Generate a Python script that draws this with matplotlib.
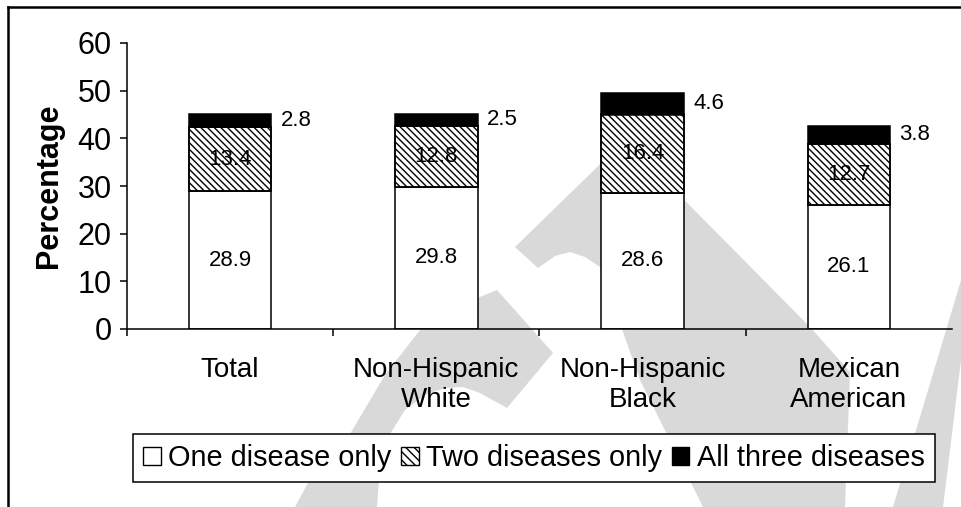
import matplotlib
matplotlib.use("Agg")
import matplotlib.pyplot as plt
from matplotlib.patches import Patch, Polygon
from matplotlib.lines import Line2D

categories = ["Total", "Non-Hispanic\nWhite", "Non-Hispanic\nBlack", "Mexican\nAmerican"]
one_only = [28.9, 29.8, 28.6, 26.1]
two_only = [13.4, 12.8, 16.4, 12.7]
all_three = [2.8, 2.5, 4.6, 3.8]
legend_labels = ["One disease only", "Two diseases only", "All three diseases"]

plt.rcParams['font.family'] = ['Liberation Sans', 'DejaVu Sans']
plt.rcParams['hatch.linewidth'] = 1.0

W, H = 962, 507
fig = plt.figure(figsize=(W / 100, H / 100), dpi=100)


def px(x, y):
    return (x / W, 1 - y / H)


# faint grey background stamp
grey = '#d9d9d9'
stamp = [
    [(295, 507), (315, 470), (350, 434), (385, 375), (420, 330), (460, 305), (497, 290),
     (553, 353), (507, 408), (480, 393), (463, 387), (445, 388), (425, 395), (405, 410),
     (390, 434), (380, 465), (377, 507)],
    [(515, 247), (625, 140), (810, 327), (850, 372), (845, 507), (703, 507), (640, 380),
     (600, 267), (585, 257), (570, 252), (555, 256), (538, 268)],
    [(962, 277), (962, 352), (943, 507), (893, 507)],
]
for pts in stamp:
    fig.patches.append(Polygon([px(*p) for p in pts], closed=True, facecolor=grey,
                               edgecolor='none', transform=fig.transFigure, zorder=-5))

# frame lines
fig.lines.append(Line2D([8 / W, 1], [1 - 7 / H] * 2, color='black', lw=1.8,
                        transform=fig.transFigure))
fig.lines.append(Line2D([8 / W] * 2, [0, 1 - 7 / H], color='black', lw=1.8,
                        transform=fig.transFigure))

ax = fig.add_axes([127 / W, 1 - 329 / H, (952 - 127) / W, (329 - 43) / H])
ax.set_facecolor('none')

x = list(range(len(categories)))
width = 0.40
lw = 1.1
hatch = '\\\\\\\\\\'

for i in x:
    a, b, c = one_only[i], two_only[i], all_three[i]
    ax.bar(i, a, width, color='white', edgecolor='black', linewidth=lw, zorder=2)
    ax.bar(i, b, width, bottom=a, color='white', edgecolor='black', linewidth=lw, zorder=2)
    ax.bar(i, b, width, bottom=a, facecolor='none', edgecolor='black', hatch=hatch,
           linewidth=lw, zorder=4)
    ax.bar(i, c, width, bottom=a + b, color='black', edgecolor='black', linewidth=lw, zorder=2)
    ax.text(i, a / 2, f"{a}", ha='center', va='center', fontsize=16, zorder=3)
    ax.text(i, a + b / 2, f"{b}", ha='center', va='center', fontsize=16, zorder=3)
    ax.text(i + width / 2 + 0.045, a + b + c / 2, f"{c}", ha='left', va='center',
            fontsize=16, zorder=3)

ax.set_xlim(-0.5, 3.5)
ax.set_ylim(0, 60)
ax.set_yticks(range(0, 61, 10))
ax.tick_params(axis='y', labelsize=22, length=5, width=1.1, pad=6, direction='out')

ax.set_xticks([-0.5, 0.5, 1.5, 2.5])
ax.set_xticklabels([])
ax.set_xticks(x, minor=True)
ax.set_xticklabels(categories, minor=True, fontsize=20, linespacing=1.2)
ax.tick_params(axis='x', which='major', length=5, width=1.1, direction='out')
ax.tick_params(axis='x', which='minor', length=0, pad=20)

for side in ['top', 'right']:
    ax.spines[side].set_visible(False)
for side in ['left', 'bottom']:
    ax.spines[side].set_linewidth(1.1)

ax.set_ylabel("Percentage", fontsize=22, fontweight='bold', labelpad=10)

handles = [
    Patch(facecolor='white', edgecolor='black', linewidth=1.0),
    Patch(facecolor='white', edgecolor='black', linewidth=1.0, hatch='\\\\\\\\'),
    Patch(facecolor='black', edgecolor='black', linewidth=1.0),
]
leg = fig.legend(handles, legend_labels, loc='center', ncol=3,
                 bbox_to_anchor=(534 / W, 1 - 458 / H), bbox_transform=fig.transFigure,
                 fontsize=20.8, frameon=True, fancybox=False, framealpha=1,
                 edgecolor='black', handlelength=0.6, handleheight=0.6,
                 handletextpad=0.25, columnspacing=0.35, borderpad=0.35,
                 borderaxespad=0)
leg.get_frame().set_linewidth(1.1)

fig.savefig("out.png", dpi=100)
